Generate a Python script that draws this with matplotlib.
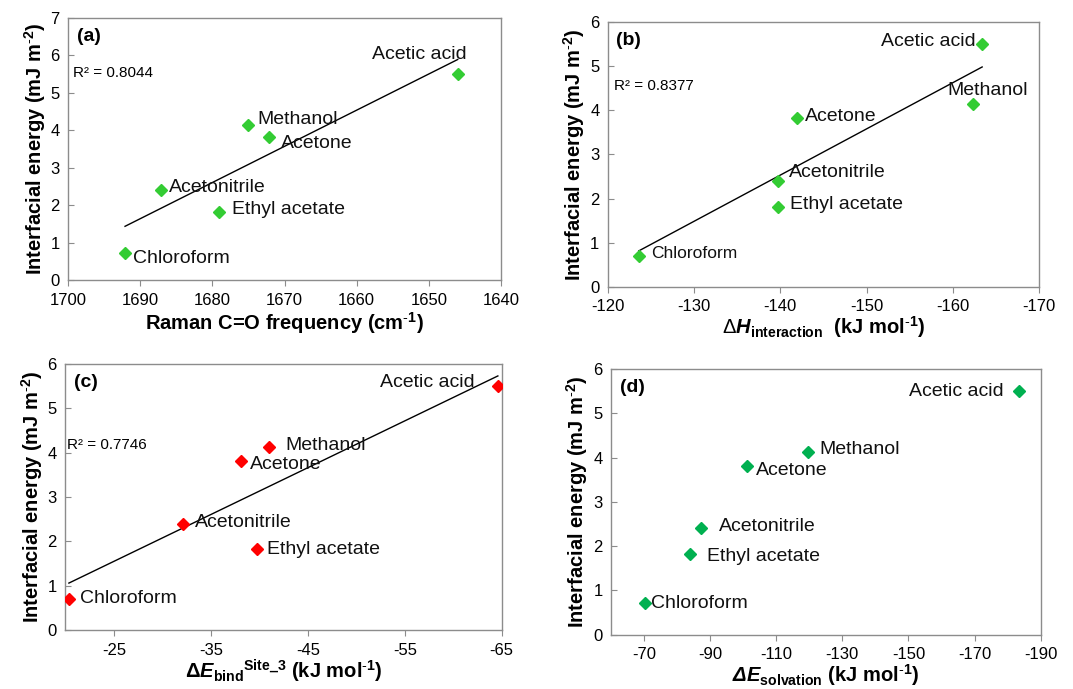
import numpy as np
import matplotlib
matplotlib.use('Agg')
import matplotlib.pyplot as plt

plt.rcParams['font.family'] = ['Liberation Sans', 'DejaVu Sans']
plt.rcParams['mathtext.fontset'] = 'custom'
plt.rcParams['mathtext.rm'] = 'Liberation Sans'
plt.rcParams['mathtext.it'] = 'Liberation Sans:italic'
plt.rcParams['mathtext.bf'] = 'Liberation Sans:bold'
plt.rcParams['mathtext.bfit'] = 'Liberation Sans:bold:italic'
plt.rcParams['axes.unicode_minus'] = False

solvents = ['Acetic acid', 'Methanol', 'Acetone', 'Acetonitrile', 'Ethyl acetate', 'Chloroform']
energy = [5.50, 4.13, 3.82, 2.40, 1.82, 0.71]

raman = [1646.0, 1675.1, 1672.1, 1687.1, 1679.1, 1692.1]
dh_interaction = [-163.4, -162.3, -141.9, -139.7, -139.7, -123.6]
de_bind = [-64.6, -41.0, -38.1, -32.1, -39.7, -20.3]
de_solvation = [-183.5, -119.7, -101.2, -87.3, -84.0, -70.2]

r2_values = ['0.8044', '0.8377', '0.7746']

# label offsets in pixels (dx, dy, horizontal alignment, fontsize)
offsets_a = [(9, 20, 'right', 14), (10, 6, 'left', 14), (12, -6, 'left', 14),
             (8, 3, 'left', 14), (13, 2, 'left', 14), (8, -5, 'left', 14)]
offsets_b = [(-7, 2, 'right', 14), (-25, 14, 'left', 14), (8, 2, 'left', 14),
             (11, 8, 'left', 14), (12, 2, 'left', 14), (12, 2, 'left', 12.5)]
offsets_c = [(-23, 4, 'right', 14), (16, 1, 'left', 14), (9, -4, 'left', 14),
             (12, 1, 'left', 14), (10, 0, 'left', 14), (11, 0, 'left', 14)]
offsets_d = [(-16, 0, 'right', 14), (11, 2, 'left', 14), (9, -5, 'left', 14),
             (18, 2, 'left', 14), (17, -2, 'left', 14), (6, 0, 'left', 14)]

spine_col = '#8c8c8c'
ylab = r'Interfacial energy (mJ m$^{\mathbf{\text{-}2}}$)'
unit = r' (kJ mol$^{\mathbf{\text{-}1}}$)'

fig = plt.figure(figsize=(10.73, 6.89), dpi=100)
ax_a = fig.add_axes([0.0634, 0.5936, 0.4035, 0.3803])
ax_b = fig.add_axes([0.5664, 0.5835, 0.4020, 0.3850])
ax_c = fig.add_axes([0.0606, 0.0856, 0.4070, 0.3860])
ax_d = fig.add_axes([0.5694, 0.0788, 0.4005, 0.3856])


def style(ax):
    for s in ax.spines.values():
        s.set_color(spine_col)
        s.set_linewidth(1.0)
    ax.tick_params(axis='x', direction='out', length=4, color=spine_col, labelsize=12, pad=5)
    ax.tick_params(axis='y', direction='in', length=4, color=spine_col, labelsize=12, pad=6)
    ax.set_ylabel(ylab, fontsize=14.5, fontweight='bold', labelpad=2)


def draw(ax, x, color, offs, tag, r2=None, r2pos=None):
    ax.plot(x, energy, 'D', color=color, markersize=6.5, linestyle='none', zorder=3)
    for name, xi, yi, (dx, dy, ha, fs) in zip(solvents, x, energy, offs):
        ax.annotate(name, (xi, yi), xytext=(dx, dy), textcoords='offset pixels',
                    ha=ha, va='center', fontsize=fs, color='#111111')
    if r2 is not None:
        k, b = np.polyfit(x, energy, 1)
        xs = np.array([min(x), max(x)])
        ax.plot(xs, k * xs + b, color='black', linewidth=1.0, zorder=2)
        ax.text(r2pos[0], r2pos[1], 'R² = ' + r2, transform=ax.transAxes,
                fontsize=11, va='center', ha='left')
    ax.text(0.02, 0.93, tag, transform=ax.transAxes, fontsize=14,
            fontweight='bold', va='center', ha='left')
    style(ax)


draw(ax_a, raman, '#33cc33', offsets_a, '(a)', r2_values[0], (0.012, 0.79))
ax_a.set_xlim(1700, 1640)
ax_a.set_ylim(0, 7)
ax_a.set_xticks(np.arange(1700, 1639, -10))
ax_a.set_yticks(range(0, 8))
ax_a.set_xlabel(r'Raman C=O frequency (cm$^{\mathbf{\text{-}1}}$)', fontsize=14.5,
                fontweight='bold', labelpad=2)

draw(ax_b, dh_interaction, '#33cc33', offsets_b, '(b)', r2_values[1], (0.015, 0.758))
ax_b.set_xlim(-120, -170)
ax_b.set_ylim(0, 6)
ax_b.set_xticks(np.arange(-120, -171, -10))
ax_b.set_yticks(range(0, 7))
ax_b.set_xlabel(r'$\Delta\mathbfit{H}_{\mathbf{interaction}}$ ' + unit,
                fontsize=14.5, fontweight='bold', labelpad=0)

draw(ax_c, de_bind, '#ff0000', offsets_c, '(c)', r2_values[2], (0.004, 0.695))
ax_c.set_xlim(-19.9, -65)
ax_c.set_ylim(0, 6)
ax_c.set_xticks(np.arange(-25, -66, -10))
ax_c.set_yticks(range(0, 7))
ax_c.set_xlabel(r'$\mathbf{\Delta}\mathbfit{E}_{\mathbf{bind}}{}^{\mathbf{Site\_3}}$' + unit,
                fontsize=14.5, fontweight='bold', labelpad=0)

draw(ax_d, de_solvation, '#00b050', offsets_d, '(d)')
ax_d.set_xlim(-60, -190)
ax_d.set_ylim(0, 6)
ax_d.set_xticks(np.arange(-70, -191, -20))
ax_d.set_yticks(range(0, 7))
ax_d.set_xlabel(r'$\mathbfit{\Delta E}_{\mathbf{solvation}}$' + unit,
                fontsize=14.5, fontweight='bold', labelpad=0)

fig.savefig('out.png', dpi=100)
